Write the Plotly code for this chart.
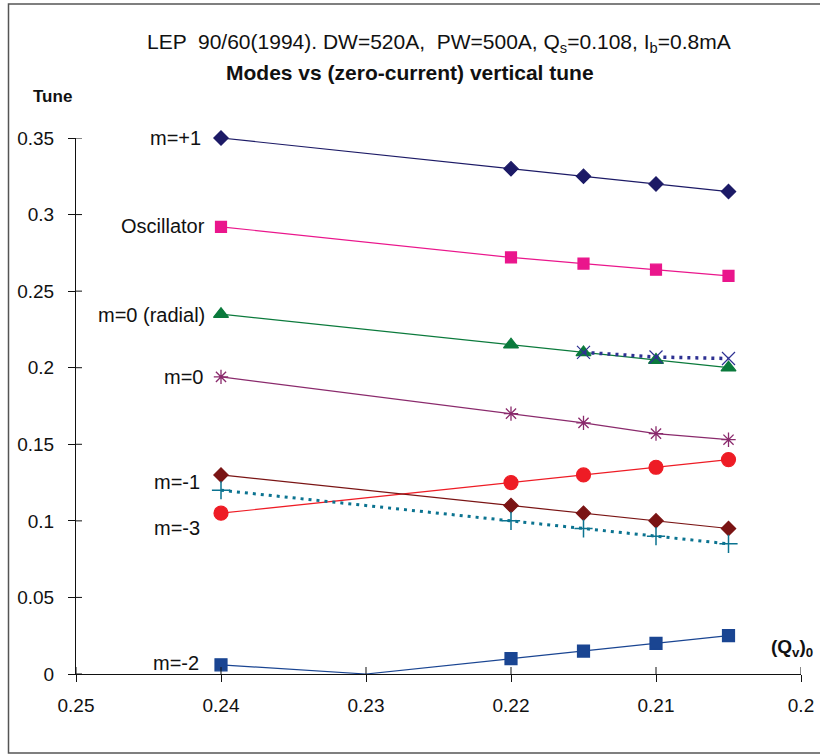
import plotly.graph_objects as go

W, H = 820, 755

# ---- data ----
qv = [0.24, 0.22, 0.215, 0.21, 0.205]
m_plus1 = [0.35, 0.33, 0.325, 0.32, 0.315]
oscillator = [0.292, 0.272, 0.268, 0.264, 0.26]
m0_radial = [0.235, 0.215, 0.21, 0.205, 0.2]
qv_x = [0.215, 0.21, 0.205]
x_series = [0.21, 0.207, 0.206]
m0 = [0.194, 0.17, 0.164, 0.157, 0.153]
red_series = [0.105, 0.125, 0.13, 0.135, 0.14]
brown_series = [0.13, 0.11, 0.105, 0.1, 0.095]
teal_series = [0.12, 0.1, 0.095, 0.09, 0.085]
qv_m2 = [0.24, 0.23, 0.22, 0.215, 0.21, 0.205]
m_minus2 = [0.006, 0.0, 0.01, 0.015, 0.02, 0.025]

y_ticks = [0, 0.05, 0.1, 0.15, 0.2, 0.25, 0.3, 0.35]
x_ticks = [0.25, 0.24, 0.23, 0.22, 0.21, 0.2]

labels = ["m=+1", "Oscillator", "m=0 (radial)", "m=0", "m=-1", "m=-3", "m=-2"]
label_py = [138, 226, 315, 377, 482, 528, 663]
label_px = [203, 207, 207, 205, 202, 202, 201]

FONT = "Liberation Sans, Arial, sans-serif"

# ---- layout geometry (pixels) ----
xl, xr = 76, 801
yt, yb = 138, 674
xdom = [xl / W, xr / W]
ydom = [(H - yb) / H, (H - yt) / H]

fig = go.Figure()

def add(x, y, color, symbol, size, dash="solid", width=1.2, name="", mlw=1.2):
    fig.add_trace(go.Scatter(
        x=x, y=y, mode="lines+markers", name=name,
        line=dict(color=color, width=width, dash=dash),
        marker=dict(symbol=symbol, size=size, color=color, opacity=1,
                    line=dict(color=color, width=mlw)),
        cliponaxis=False, showlegend=False))

add(qv, m_plus1, "#1c1a66", "diamond", 11, name="m=+1")
add(qv, oscillator, "#ea168c", "square", 11, name="Oscillator")
add(qv, m0_radial, "#0b7a3c", "triangle-up", 13, name="m=0 (radial)")
add(qv_x, x_series, "#2e3192", "x-thin-open", 13, dash="3px,5px", width=3.5, name="x", mlw=1.2)
add(qv, m0, "#8a2a6c", "asterisk-open", 12, name="m=0", mlw=1.3)
add(qv, red_series, "#ee1c25", "circle", 14, name="m=-3")
add(qv, brown_series, "#7a1414", "diamond", 11, name="m=-1")
add(qv, teal_series, "#0b7390", "cross-thin-open", 13, dash="3px,5px", width=3, name="teal", mlw=1.5)
add(qv_m2, m_minus2, "#1a4592", "square", [12, 0, 12, 12, 12, 12], name="m=-2")

# label annotations
for t, px, py in zip(labels, label_px, label_py):
    fig.add_annotation(text=t, x=px / W, y=(H - py) / H, xref="paper", yref="paper",
                       xanchor="right", yanchor="middle", showarrow=False,
                       font=dict(family=FONT, size=20, color="#111"))

# titles
fig.add_annotation(text="LEP  90/60(1994). DW=520A,  PW=500A, Q<sub>s</sub>=0.108, I<sub>b</sub>=0.8mA",
                   x=439 / W, y=(H - 43) / H, xref="paper", yref="paper",
                   xanchor="center", yanchor="middle", showarrow=False,
                   font=dict(family=FONT, size=21, color="#111"))
fig.add_annotation(text="<b>Modes vs (zero-current) vertical tune</b>",
                   x=410 / W, y=(H - 72) / H, xref="paper", yref="paper",
                   xanchor="center", yanchor="middle", showarrow=False,
                   font=dict(family=FONT, size=21, color="#111"))
fig.add_annotation(text="<b>Tune</b>", x=52 / W, y=(H - 97) / H, xref="paper", yref="paper",
                   xanchor="center", yanchor="middle", showarrow=False,
                   font=dict(family=FONT, size=17, color="#111"))
fig.add_annotation(text="<b>(Q<sub>v</sub>)<sub>0</sub></b>", x=792 / W, y=(H - 648) / H,
                   xref="paper", yref="paper", xanchor="center", yanchor="middle",
                   showarrow=False, font=dict(family=FONT, size=19, color="#111"))

# inner halves of crossing tick marks
shapes = []
for v in y_ticks:
    shapes.append(dict(type="line", xref="paper", yref="y", x0=xdom[0], x1=xdom[0] + 6 / W,
                       y0=v, y1=v, line=dict(color="#111", width=1)))
for v in x_ticks:
    shapes.append(dict(type="line", xref="x", yref="paper", x0=v, x1=v,
                       y0=ydom[0], y1=ydom[0] + 7 / H, line=dict(color="#111", width=1)))
# outer frame
shapes.append(dict(type="rect", xref="paper", yref="paper", x0=8.5 / W, x1=1.05,
                   y0=(H - 753) / H, y1=(H - 4) / H, line=dict(color="#555", width=1.5)))

fig.update_layout(
    width=W, height=H, margin=dict(l=0, r=0, t=0, b=0, pad=0, autoexpand=False),
    paper_bgcolor="white", plot_bgcolor="white",
    font=dict(family=FONT, size=19, color="#111"),
    shapes=shapes,
    xaxis=dict(domain=xdom, range=[0.25, 0.2], tickvals=x_ticks,
               ticktext=[str(v) for v in x_ticks], automargin=False,
               showgrid=False, zeroline=False, showline=True, linecolor="#111", linewidth=1,
               ticks="outside", ticklen=7, tickcolor="#111", ticklabelstandoff=7,
               tickfont=dict(size=19)),
    yaxis=dict(domain=ydom, range=[0, 0.35], tickvals=y_ticks,
               ticktext=[("%g" % v) for v in y_ticks], automargin=False,
               showgrid=False, zeroline=False, showline=True, linecolor="#111", linewidth=1,
               ticks="outside", ticklen=7, tickcolor="#111", ticklabelstandoff=10,
               tickfont=dict(size=19)),
)

fig.write_html("out.html")
